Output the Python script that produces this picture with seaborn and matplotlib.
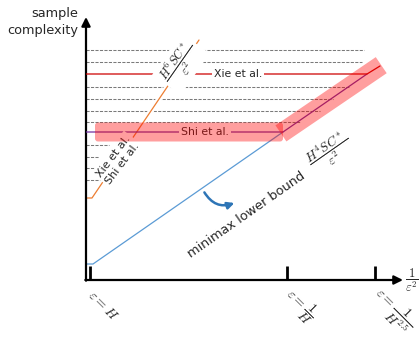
import matplotlib
matplotlib.use("Agg")
import matplotlib.pyplot as plt
import matplotlib.patheffects as pe
from matplotlib.patches import FancyBboxPatch, FancyArrowPatch
import numpy as np
import pandas as pd
import seaborn as sns

# courbes (unites arbitraires)
minimax_x = [0, 0.7, 19.7]
minimax_y = [1.6, 1.6, 14.8]
shi_x = [0, 19.7, 28.1]
shi_y = [14.8, 14.8, 20.6]
xie_x = [0, 28.1, 29.4]
xie_y = [20.6, 20.6, 21.4]
h6_x = [0, 0.6, 11.3]
h6_y = [8.2, 8.2, 24.0]

# lignes pointillees horizontales (hauteur, fin)
dash_y = [23.0, 21.8, 19.3, 18.1, 16.9, 15.8, 13.5, 12.3, 11.2, 10.0]
dash_end = [27.8, 27.6, 26.4, 24.7, 23.4, 21.4, 2.3, 1.3, 0.8, 1.5]

tick_pos = [0.4, 20.1, 28.9]
tick_labels = [r"$\varepsilon = H$", r"$\varepsilon = \dfrac{1}{H}$",
               r"$\varepsilon = \dfrac{1}{H^{2.5}}$"]

sns.set_style("white")
plt.rcParams['font.family'] = ['DejaVu Sans']
plt.rcParams['mathtext.fontset'] = 'cm'

fig = plt.figure(figsize=(4.2, 3.38), dpi=100)
ax = fig.add_axes([86 / 420, 58 / 338, 320 / 420, 264 / 338])
ax.set_xlim(0, 32)
ax.set_ylim(0, 26.4)

# pointilles
ax.hlines(dash_y, 0, dash_end, colors='#7a7a7a', linewidth=0.75,
          linestyles=(0, (3, 1.3)), zorder=1)

# courbes
sns.lineplot(x=h6_x, y=h6_y, ax=ax, color='#ed7d31', lw=0.9, sort=False,
             estimator=None, zorder=2,
             path_effects=[pe.Stroke(linewidth=4, foreground='white'), pe.Normal()])
sns.lineplot(x=minimax_x, y=minimax_y, ax=ax, color='#5b9bd5', lw=0.9,
             sort=False, estimator=None, zorder=3)
sns.lineplot(x=shi_x, y=shi_y, ax=ax, color='#7030a0', lw=0.9, sort=False,
             estimator=None, zorder=4)
sns.lineplot(x=xie_x, y=xie_y, ax=ax, color='#cc0000', lw=0.9, sort=False,
             estimator=None, zorder=4)

white = dict(boxstyle='square,pad=0.2', fc='white', ec='none')
ax.text(15.2, xie_y[0], "Xie et al.", fontsize=7.8, ha='center', va='center',
        bbox=white, zorder=5)
ax.text(11.9, shi_y[0], "Shi et al.", fontsize=7.8, ha='center', va='center',
        bbox=white, zorder=5)
ax.text(3.2, 12.0, "Xie et al.\nShi et al.", fontsize=8, ha='center',
        va='center', rotation=53, linespacing=1.2, bbox=white, zorder=5)
ax.text(9.5, 21.6, r"$\dfrac{H^6 SC^*}{\varepsilon^2}$", fontsize=9,
        ha='center', va='center', rotation=55, bbox=white, zorder=5)
ax.text(16.0, 6.5, "minimax lower bound", fontsize=9.3, ha='center',
        va='center', rotation=35, zorder=5)
ax.text(24.4, 12.8, r"$\dfrac{H^4 SC^*}{\varepsilon^2}$", fontsize=9.5,
        ha='center', va='center', rotation=35, zorder=5)

# surlignage
ax.add_patch(FancyBboxPatch((0.9, shi_y[0] - 0.95), shi_x[1] - 0.9, 1.9,
                            boxstyle="round,pad=0,rounding_size=0.3",
                            fc='red', ec='none', alpha=0.38, zorder=6))
p0 = np.array([shi_x[1], shi_y[1]])
p1 = np.array([xie_x[2], xie_y[2]])
d = (p1 - p0) / np.linalg.norm(p1 - p0)
band = np.array([p0 - 0.25 * d, p1 + 0.15 * d])
ax.plot(band[:, 0], band[:, 1], color='red', alpha=0.38, lw=14,
        solid_capstyle='butt', zorder=6)

# fleche courbe
ax.add_patch(FancyArrowPatch((11.7, 9.0), (15.1, 7.8),
                             connectionstyle="arc3,rad=0.45", arrowstyle='-|>',
                             mutation_scale=10, lw=1.8, color='#2e75b6',
                             zorder=5))

# axes avec fleches
for s in ax.spines.values():
    s.set_visible(False)
ax.annotate('', xy=(31.7, 0), xytext=(-0.07, 0),
            arrowprops=dict(arrowstyle='-|>', lw=1.6, color='black',
                            mutation_scale=13, shrinkA=0, shrinkB=0),
            annotation_clip=False)
ax.annotate('', xy=(0, 26.3), xytext=(0, -0.07),
            arrowprops=dict(arrowstyle='-|>', lw=1.6, color='black',
                            mutation_scale=13, shrinkA=0, shrinkB=0),
            annotation_clip=False)

ax.set_yticks([])
ax.set_xticks(tick_pos)
ax.set_xticklabels(tick_labels, fontsize=10, rotation=-45, ha='left',
                   va='center', rotation_mode='anchor')
ax.tick_params(axis='x', direction='in', length=10, width=2, pad=9,
               bottom=True, color='black')
ax.set_xlabel('')
ax.set_ylabel('')

ax.text(31.95, 0, r"$\dfrac{1}{\varepsilon^2}$", fontsize=9, ha='left',
        va='center', clip_on=False)
fig.text(78 / 420, 1 - 22 / 338, "sample\ncomplexity", fontsize=9.3,
         ha='right', va='center', linespacing=1.35)

fig.savefig("out.png", dpi=100)
